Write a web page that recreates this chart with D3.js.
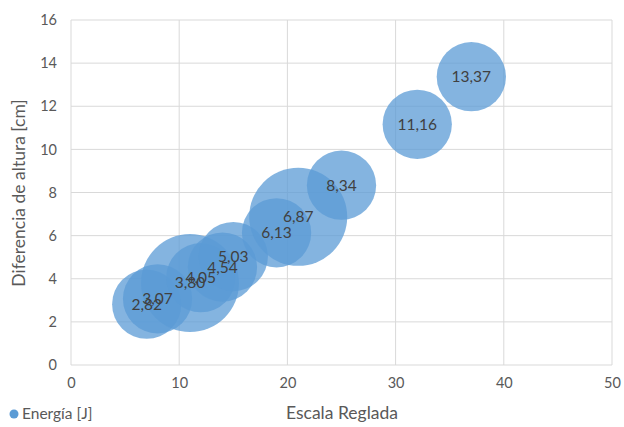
<!DOCTYPE html>
<html><head><meta charset="utf-8">
<script src="https://cdn.jsdelivr.net/npm/d3@7"></script>
<style>
body{margin:0;background:#fff;}
text{font-family:Lato,"Open Sans",sans-serif;}
</style></head>
<body><svg id="c" width="624" height="427"></svg>
<script>
const escala = [7, 8, 11, 12, 14, 15, 19, 21, 25, 32, 37];
const diferencia = [2.82, 3.07, 3.80, 4.05, 4.54, 5.03, 6.13, 6.87, 8.34, 11.16, 13.37];
const energia = [1.0, 1.0, 2.0, 1.0, 1.0, 1.0, 1.0, 2.0, 1.0, 1.0, 1.0];
const xTicks = [0, 10, 20, 30, 40, 50];
const yTicks = [0, 2, 4, 6, 8, 10, 12, 14, 16];

const svg = d3.select("#c");
const m = {l: 71, r: 612, t: 20, b: 365};
const x = d3.scaleLinear().domain([0, 50]).range([m.l, m.r]);
const y = d3.scaleLinear().domain([0, 16]).range([m.b, m.t]);
const r = d3.scaleSqrt().domain([0, 2]).range([0, 49]);

const g = svg.append("g");
g.selectAll(".gx").data(xTicks).join("line")
  .attr("x1", d => x(d)).attr("x2", d => x(d)).attr("y1", m.t).attr("y2", m.b)
  .attr("stroke", "#d9d9d9").attr("stroke-width", 1);
g.selectAll(".gy").data(yTicks).join("line")
  .attr("x1", m.l).attr("x2", m.r).attr("y1", d => y(d)).attr("y2", d => y(d))
  .attr("stroke", "#d9d9d9").attr("stroke-width", 1);

const xa = svg.append("g").attr("transform", `translate(0,${m.b})`)
  .call(d3.axisBottom(x).tickValues(xTicks).tickSize(0).tickPadding(13).tickFormat(d3.format("d")));
xa.select(".domain").remove();
const ya = svg.append("g").attr("transform", `translate(${m.l},0)`)
  .call(d3.axisLeft(y).tickValues(yTicks).tickSize(0).tickPadding(14).tickFormat(d3.format("d")));
ya.select(".domain").remove();
svg.selectAll(".tick text").attr("font-size", 14.5).attr("fill", "#595959").attr("font-family", "Lato");

const pts = escala.map((d, i) => ({x: d, y: diferencia[i], e: energia[i]}));
svg.append("g").selectAll("circle").data(pts).join("circle")
  .attr("cx", d => x(d.x)).attr("cy", d => y(d.y)).attr("r", d => r(d.e))
  .attr("fill", "#5b9bd5").attr("fill-opacity", 0.75);

const fmt = v => v.toFixed(2).replace(".", ",");
svg.append("g").selectAll("text").data(pts).join("text")
  .attr("x", d => x(d.x)).attr("y", d => y(d.y)).attr("dy", "0.35em")
  .attr("text-anchor", "middle").attr("font-size", 15.5).attr("fill", "#404040")
  .text(d => fmt(d.y));

svg.append("text").attr("x", 342).attr("y", 419).attr("text-anchor", "middle")
  .attr("font-size", 17.5).attr("fill", "#595959").text("Escala Reglada");
svg.append("text").attr("transform", "translate(25,193) rotate(-90)").attr("text-anchor", "middle")
  .attr("font-size", 17.5).attr("fill", "#595959").text("Diferencia de altura [cm]");

svg.append("circle").attr("cx", 14).attr("cy", 414).attr("r", 4.5).attr("fill", "#5b9bd5");
svg.append("text").attr("x", 22).attr("y", 419).attr("font-size", 15.5).attr("fill", "#595959").text("Energía [J]");
</script></body></html>
